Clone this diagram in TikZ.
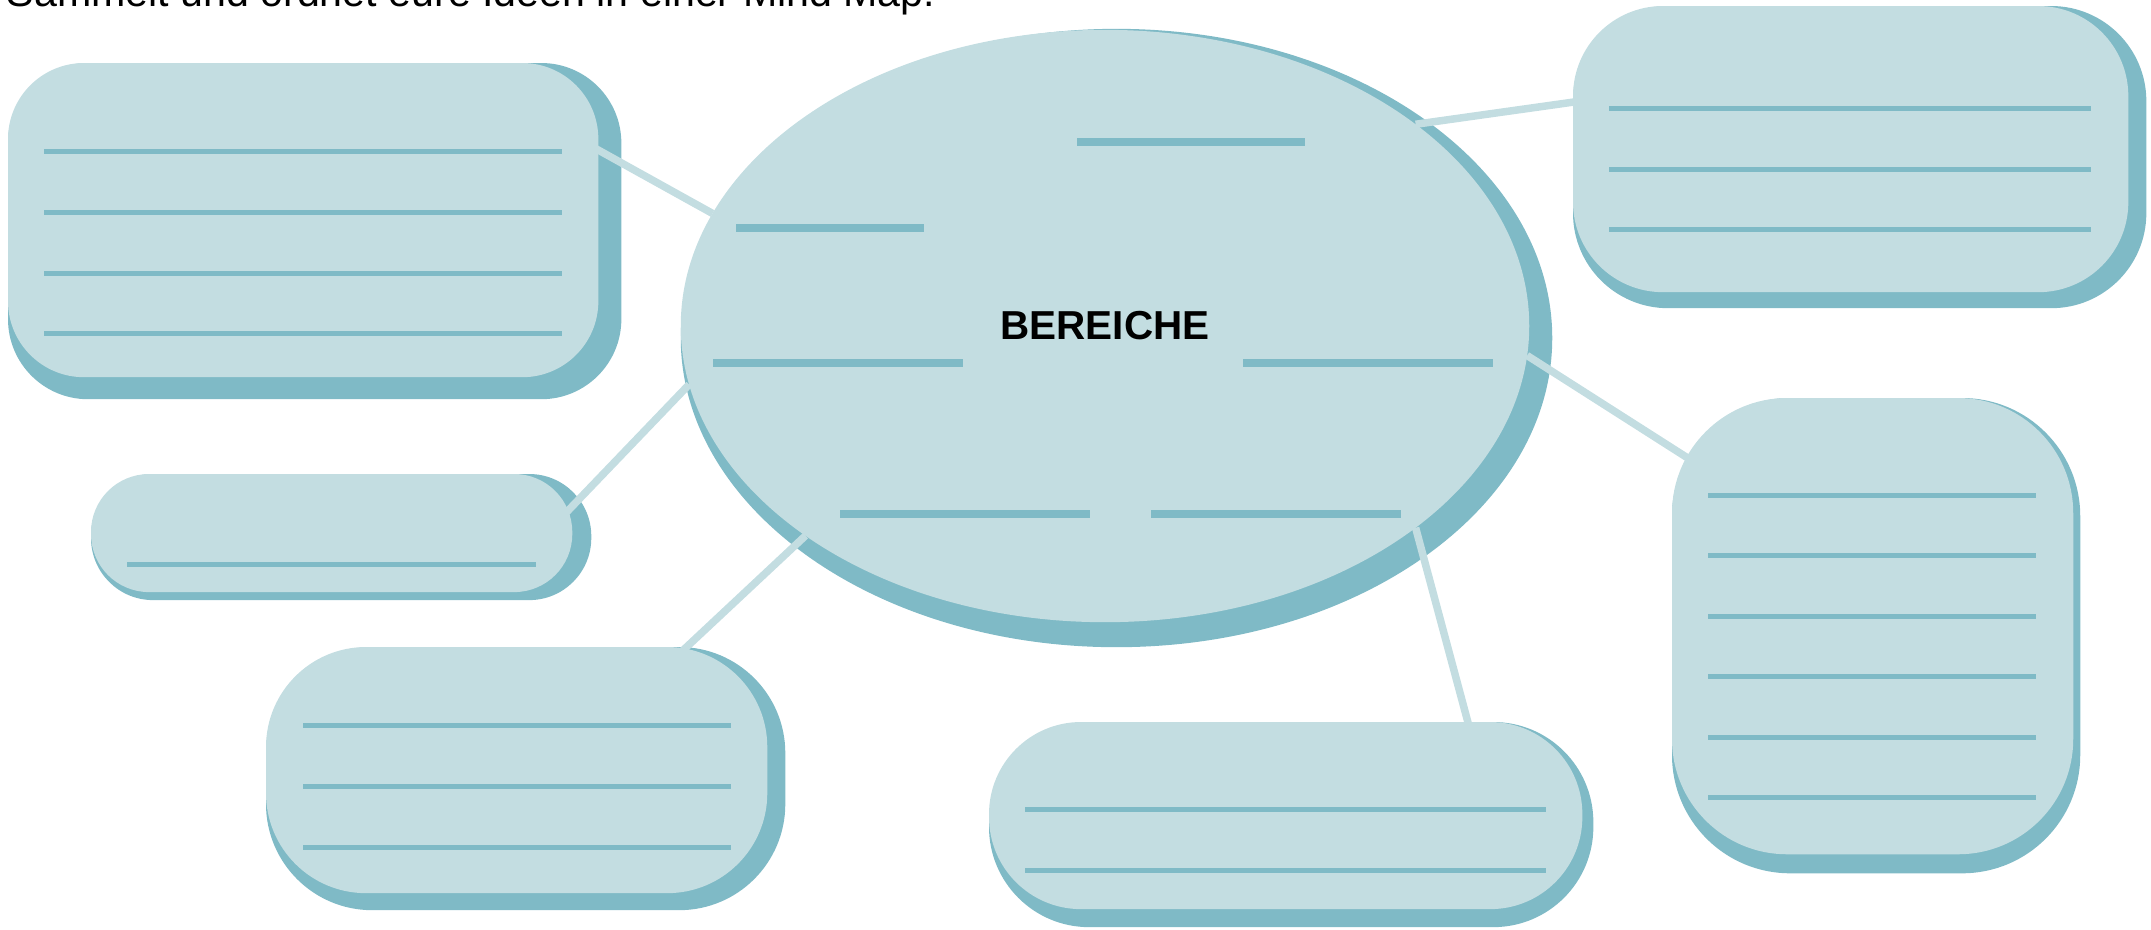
\documentclass[tikz,border=0pt]{standalone}
\usepackage{fontspec}
\setmainfont{Liberation Sans}
\usetikzlibrary{shapes.geometric}
\definecolor{mapLight}{HTML}{C3DDE1}
\definecolor{mapDark}{HTML}{7FBAC6}
\pgfdeclarelayer{shade}
\pgfdeclarelayer{link}
\pgfsetlayers{shade,link,main}

\begin{document}
\begin{tikzpicture}[x=0.01cm, y=-0.01cm, line join=round,
	pale/.style={fill=mapLight, draw=none, inner sep=0pt, outer sep=0pt},
	deep/.style={fill=mapDark, draw=none, inner sep=0pt, outer sep=0pt},
	card/.style={rectangle, anchor=north west, rounded corners=#1},
	bar/.style={draw=mapDark, line width=0.08cm},
	rule/.style={draw=mapDark, line width=0.05cm},
	link/.style={draw=mapLight, line width=0.075cm}]
	\useasboundingbox (0,0) rectangle (2151,929);
	\node[anchor=base west, inner sep=0pt, font=\fontsize{11.7}{14}\selectfont] (title) at (6,6.5) {Sammelt und ordnet eure Ideen in einer Mind Map.};
	% shadows
	\begin{pgfonlayer}{shade}
		\node[deep, ellipse, minimum width=8.71cm, minimum height=6.18cm] (ell-s) at (1116.5,338) {};
		\node[deep, card=0.8cm, minimum width=6.13cm, minimum height=3.36cm] (tl-s) at (8,63) {};
		\node[deep, card=0.95cm, minimum width=5.73cm, minimum height=3.02cm] (tr-s) at (1573,6) {};
		\node[deep, card=1.18cm, minimum width=4.08cm, minimum height=4.75cm] (r-s) at (1672,398) {};
		\node[deep, card=0.62cm, minimum width=5.00cm, minimum height=1.26cm] (sl-s) at (91,474) {};
		\node[deep, card=1.06cm, minimum width=5.19cm, minimum height=2.63cm] (bl-s) at (266,647) {};
		\node[deep, card=1.0cm, minimum width=6.04cm, minimum height=2.05cm] (b-s) at (989,722) {};
	\end{pgfonlayer}
	% bubbles
	\node[pale, ellipse, minimum width=8.48cm, minimum height=5.92cm, font=\bfseries\fontsize{11.5}{13}\selectfont] (ell) at (1105,326) {BEREICHE};
	\node[pale, card=0.76cm, minimum width=5.90cm, minimum height=3.14cm] (tl) at (8,63) {};
	\node[pale, card=0.9cm, minimum width=5.55cm, minimum height=2.86cm] (tr) at (1573,6) {};
	\node[pale, card=1.15cm, minimum width=4.01cm, minimum height=4.56cm] (r) at (1672,398) {};
	\node[pale, card=0.58cm, minimum width=4.81cm, minimum height=1.18cm] (sl) at (91,474) {};
	\node[pale, card=1.0cm, minimum width=5.01cm, minimum height=2.46cm] (bl) at (266,647) {};
	\node[pale, card=0.92cm, minimum width=5.93cm, minimum height=1.87cm] (b) at (989,722) {};
	% links
	\begin{pgfonlayer}{link}
		\coordinate (tl-end) at (591,146);
		\coordinate (tr-end) at (1581,101);
		\coordinate (r-end) at (1694,462);
		\coordinate (sl-end) at (561,518);
		\coordinate (bl-end) at (678,655);
		\coordinate (b-end) at (1470,730);
		\draw[link] (ell.164) -- (tl-end);
		\draw[link] (ell.33) -- (tr-end);
		\draw[link] (ell.356) -- (r-end);
		\draw[link] (ell.188) -- (sl-end);
		\draw[link] (ell.215) -- (bl-end);
		\draw[link] (ell.327) -- (b-end);
	\end{pgfonlayer}
	% writing lines
	\foreach \xa/\xb/\yy in {1077/1305/142, 736/924/227.5, 713/963/363, 1243/1493/363, 840/1090/514, 1151/1401/514}
		\draw[bar] (\xa,\yy) -- (\xb,\yy);
	\foreach \yy in {151.7,212.3,273,333.5} \draw[rule] (44,\yy) -- (562,\yy);
	\foreach \yy in {108.7,169.3,229.7} \draw[rule] (1609,\yy) -- (2091,\yy);
	\foreach \yy in {495.3,555.7,616.3,676.7,737.3,797.7} \draw[rule] (1708,\yy) -- (2036,\yy);
	\draw[rule] (127,564) -- (536,564);
	\foreach \yy in {725.9,786.3,847.1} \draw[rule] (303,\yy) -- (731,\yy);
	\foreach \yy in {809,870} \draw[rule] (1025,\yy) -- (1546,\yy);
\end{tikzpicture}
\end{document}
